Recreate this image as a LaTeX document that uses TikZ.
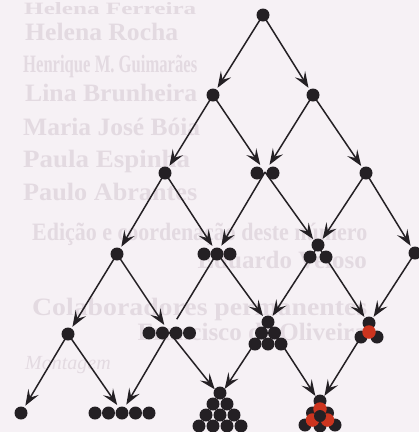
\documentclass[tikz,border=0pt]{standalone}
\usepackage{fontspec}
\setmainfont{Liberation Serif}
\usetikzlibrary{arrows.meta}
\definecolor{paper}{RGB}{246,241,245}
\definecolor{ghost}{RGB}{227,218,225}
\definecolor{ink}{RGB}{36,32,36}
\definecolor{ballred}{RGB}{204,52,30}
\begin{document}
\begin{tikzpicture}[x=1pt,y=-1pt,
  edge/.style={line width=1.5pt, draw=ink, -{Stealth[length=16pt,width=12pt,inset=6.5pt]}, shorten >=8.5pt},
  plainedge/.style={line width=1.5pt, draw=ink, shorten >=15pt},
  ball/.style={circle, fill=ink, inner sep=0pt, minimum size=13pt},
  rball/.style={circle, fill=ballred, inner sep=0pt, minimum size=13.5pt},
  ghostbf/.style={text=ghost, font=\bfseries\fontsize{25}{25}\selectfont, inner sep=0pt, anchor=base west},
  ghostit/.style={text=ghost, font=\itshape\fontsize{20}{20}\selectfont, inner sep=0pt, anchor=base west}]
\clip (0,0) rectangle (419,432);
\fill[paper] (0,0) rectangle (419,432);

% faint text showing through the page
\node[ghostbf] (g1) at (24,14) {\resizebox{172pt}{12pt}{Helena Ferreira}};
\node[ghostbf] (g2) at (25,40) {\resizebox{153pt}{\height}{Helena Rocha}};
\node[ghostbf] (g3) at (23,72) {\resizebox{174pt}{\height}{Henrique M. Guimarães}};
\node[ghostbf] (g4) at (25,101) {\resizebox{172pt}{\height}{Lina Brunheira}};
\node[ghostbf] (g5) at (23,135) {\resizebox{177pt}{\height}{Maria José Bóia}};
\node[ghostbf] (g6) at (23,167) {\resizebox{167pt}{\height}{Paula Espinha}};
\node[ghostbf] (g7) at (23,200) {\resizebox{174pt}{\height}{Paulo Abrantes}};
\node[ghostbf] (g8) at (32,240) {\resizebox{335pt}{\height}{Edição e coordenação deste número}};
\node[ghostbf, anchor=base east] (g9) at (367,268) {Eduardo Veloso};
\node[ghostbf] (g10) at (32,315) {\resizebox{335pt}{\height}{Colaboradores permanentes}};
\node[ghostbf, anchor=base east] (g11) at (367,340) {Francisco de Oliveira};
\node[ghostit] (g12) at (25,369) {Montagem};

% lattice points
\coordinate (A) at (263,15);
\coordinate (B1) at (213,95);
\coordinate (B2) at (313,95);
\coordinate (C1) at (165,173);
\coordinate (C2) at (265,172);
\coordinate (C3) at (366,173);
\coordinate (D1) at (117,254);
\coordinate (D2) at (217,253);
\coordinate (D3) at (318,246);
\coordinate (D4) at (415,253);
\coordinate (E1) at (68,334);
\coordinate (E2) at (169,332);
\coordinate (E3) at (268,323);
\coordinate (E4) at (369,324);
\coordinate (F1) at (21,413);
\coordinate (F2) at (122,412);
\coordinate (F3) at (220,396);
\coordinate (F4) at (320,403);

% connectors
\draw[edge] (A) -- (B1);
\draw[edge] (A) -- (B2);
\draw[edge] (B1) -- (C1);
\draw[edge] (B1) -- (C2);
\draw[edge] (B2) -- (C2);
\draw[edge] (B2) -- (C3);
\draw[edge] (C1) -- (D1);
\draw[edge] (C1) -- (D2);
\draw[edge] (C2) -- (D2);
\draw[edge] (C2) -- (D3);
\draw[edge] (C3) -- (D3);
\draw[edge] (C3) -- (D4);
\draw[edge] (D1) -- (E1);
\draw[edge] (D1) -- (E2);
\draw[plainedge] (D2) -- (E2);
\draw[edge] (D2) -- (E3);
\draw[edge] (D3) -- (E3);
\draw[edge] (D3) -- (E4);
\draw[edge] (D4) -- (E4);
\draw[edge] (E1) -- (F1);
\draw[edge] (E1) -- (F2);
\draw[edge] (E2) -- (F2);
\draw[edge] (E2) -- (F3);
\draw[edge] (E3) -- (F3);
\draw[edge] (E3) -- (F4);
\draw[edge] (E4) -- (F4);

% balls
\node[ball] (A-1) at (263,15) {};
\node[ball] (B1-1) at (213,95) {};
\node[ball] (B2-1) at (313,95) {};
\node[ball] (C1-1) at (165,173) {};
\node[ball] (C2-1) at (257,173) {};
\node[ball] (C2-2) at (273,173) {};
\node[ball] (C3-1) at (366,173) {};
\node[ball] (D1-1) at (117,254) {};
\foreach \i/\x in {1/204,2/217,3/230} \node[ball] (D2-\i) at (\x,254) {};
\node[ball] (D3-1) at (318,245) {};
\node[ball] (D3-2) at (310,257) {};
\node[ball] (D3-3) at (326,257) {};
\node[ball] (D4-1) at (415,253) {};
\node[ball] (E1-1) at (68,334) {};
\foreach \i/\x in {1/149,2/162.5,3/176,4/189.5} \node[ball] (E2-\i) at (\x,333) {};
\node[ball] (E3-1) at (268,322) {};
\node[ball] (E3-2) at (261.5,333) {};
\node[ball] (E3-3) at (274.5,333) {};
\node[ball] (E3-4) at (255,344) {};
\node[ball] (E3-5) at (268,344) {};
\node[ball] (E3-6) at (281,344) {};
\node[ball] (E4-1) at (369,323) {};
\node[ball] (E4-2) at (361,337) {};
\node[ball] (E4-3) at (377,337) {};
\node[rball] (E4-4) at (369,332) {};
\node[ball] (F1-1) at (21,413) {};
\foreach \i/\x in {1/95,2/108.5,3/122,4/135.5,5/149} \node[ball] (F2-\i) at (\x,413) {};
\node[ball] (F3-1) at (220,393) {};
\node[ball] (F3-2) at (213,404) {};
\node[ball] (F3-3) at (227,404) {};
\node[ball] (F3-4) at (206,415) {};
\node[ball] (F3-5) at (220,415) {};
\node[ball] (F3-6) at (234,415) {};
\node[ball] (F3-7) at (199,426) {};
\node[ball] (F3-8) at (213,426) {};
\node[ball] (F3-9) at (227,426) {};
\node[ball] (F3-10) at (241,426) {};
\node[ball] (F4-1) at (320,401) {};
\node[ball] (F4-2) at (312.5,413) {};
\node[ball] (F4-3) at (327.5,413) {};
\node[ball] (F4-4) at (305,425) {};
\node[ball] (F4-5) at (320,426) {};
\node[ball] (F4-6) at (335,425) {};
\node[rball] (F4-7) at (320,409) {};
\node[rball] (F4-8) at (312.5,420) {};
\node[rball] (F4-9) at (327.5,420) {};
\node[ball, minimum size=12pt] (F4-10) at (320,416) {};
\end{tikzpicture}
\end{document}
